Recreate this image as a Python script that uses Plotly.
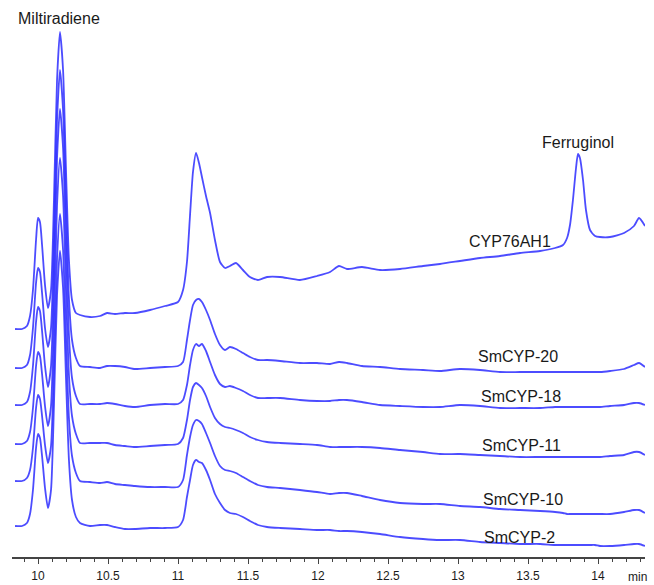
import plotly.graph_objects as go

# Retention time (min)
time_min = [9.836, 9.886, 9.921, 9.943, 9.964, 9.986, 10.000, 10.014, 10.029, 10.050,
            10.071, 10.093, 10.114, 10.136, 10.157, 10.179, 10.200, 10.221, 10.243, 10.271,
            10.300, 10.371, 10.443, 10.493, 10.550, 10.621, 10.693, 10.800, 10.907, 11.000,
            11.036, 11.064, 11.086, 11.107, 11.129, 11.150, 11.171, 11.200, 11.229, 11.264,
            11.300, 11.336, 11.371, 11.414, 11.464, 11.514, 11.571, 11.636, 11.729, 11.871,
            11.993, 12.086, 12.150, 12.207, 12.314, 12.443, 12.586, 12.750, 12.871, 13.014,
            13.157, 13.300, 13.443, 13.586, 13.693, 13.750, 13.779, 13.800, 13.821, 13.843,
            13.857, 13.871, 13.893, 13.914, 13.943, 13.979, 14.014, 14.086, 14.186, 14.257,
            14.293, 14.336]

# Stacked detector signals (arbitrary units, offsets included)
cyp76ah1 = [228, 228, 231, 241, 267, 317, 339, 335, 312, 272,
            249, 267, 357, 477, 525, 487, 387, 297, 257, 244,
            242, 240, 241, 244, 243, 244, 244, 247, 251, 255,
            267, 295, 342, 385, 404, 394, 380, 361, 344, 317,
            295, 289, 291, 294, 287, 280, 277, 280, 280, 277,
            281, 285, 291, 288, 290, 287, 288, 291, 293, 296,
            299, 301, 304, 306, 309, 312, 319, 332, 357, 389,
            403, 399, 377, 347, 327, 321, 320, 320, 324, 331,
            339, 331]

smcyp20 = [189, 189, 192, 202, 229, 274, 289, 285, 264, 229,
           210, 229, 317, 437, 487, 447, 349, 259, 217, 199,
           191, 190, 189, 191, 191, 190, 188, 189, 190, 191,
           195, 217, 237, 252, 257, 258, 255, 247, 237, 223,
           212, 207, 210, 208, 204, 200, 197, 197, 196, 194,
           194, 193, 195, 194, 191, 190, 188, 187, 186, 188,
           187, 185, 185, 185, 185, 185, 185, 185, 185, 185,
           185, 185, 185, 185, 185, 185, 185, 186, 188, 192,
           194, 190]

smcyp18 = [152, 152, 155, 165, 191, 235, 250, 246, 226, 191,
           170, 191, 279, 399, 448, 409, 311, 222, 179, 161,
           153, 153, 153, 154, 153, 151, 150, 152, 153, 153,
           157, 172, 192, 207, 213, 211, 213, 206, 195, 182,
           173, 170, 171, 169, 166, 162, 159, 159, 159, 157,
           156, 156, 157, 157, 155, 152, 151, 150, 150, 152,
           151, 149, 149, 149, 150, 150, 150, 150, 150, 150,
           150, 150, 150, 150, 150, 150, 150, 151, 152, 154,
           154, 152]

smcyp11 = [113, 113, 116, 125, 149, 191, 205, 201, 183, 151,
           131, 151, 237, 352, 399, 361, 267, 182, 141, 123,
           114, 114, 114, 114, 112, 111, 110, 111, 112, 113,
           119, 137, 157, 170, 174, 172, 169, 161, 150, 139,
           133, 130, 129, 127, 124, 120, 117, 115, 114, 113,
           112, 110, 110, 110, 110, 109, 107, 105, 103, 103,
           102, 101, 100, 100, 100, 100, 100, 100, 100, 100,
           100, 100, 100, 100, 100, 100, 100, 101, 102, 105,
           105, 102]

smcyp10 = [76, 76, 79, 87, 109, 149, 162, 158, 141, 112,
           94, 111, 192, 299, 343, 307, 219, 139, 101, 84,
           76, 75, 74, 75, 73, 72, 71, 70, 70, 70,
           77, 102, 120, 132, 137, 136, 133, 124, 114, 101,
           91, 87, 86, 84, 80, 76, 72, 70, 69, 67,
           65, 63, 64, 64, 61, 57, 54, 53, 53, 51,
           50, 48, 47, 46, 45, 44, 43, 43, 43, 43,
           43, 43, 43, 43, 43, 43, 43, 43, 45, 47,
           47, 44]

smcyp2 = [31, 31, 34, 43, 67, 109, 123, 119, 101, 69,
          49, 67, 152, 262, 306, 269, 179, 97, 57, 40,
          34, 31, 32, 32, 30, 28, 28, 29, 29, 30,
          37, 60, 77, 92, 97, 95, 94, 87, 77, 63,
          54, 47, 44, 43, 40, 36, 32, 30, 29, 28,
          27, 27, 26, 26, 25, 23, 20, 18, 17, 17,
          15, 14, 13, 13, 12, 12, 12, 12, 12, 12,
          12, 12, 12, 12, 12, 12, 11, 11, 12, 13,
          13, 11]

series_names = ["CYP76AH1", "SmCYP-20", "SmCYP-18", "SmCYP-11", "SmCYP-10", "SmCYP-2"]
series_values = [cyp76ah1, smcyp20, smcyp18, smcyp11, smcyp10, smcyp2]

# Label anchor positions (time, signal)
label_x = [13.371, 13.429, 13.45, 13.45, 13.464, 13.436]
label_y = [316, 201, 161, 112, 58, 20]

tick_vals = [10, 10.5, 11, 11.5, 12, 12.5, 13, 13.5, 14]
tick_text = ["10", "10.5", "11", "11.5", "12", "12.5", "13", "13.5", "14"]

FONT = "Liberation Sans, Arial, Helvetica, sans-serif"
LINE = "rgba(45,45,255,0.85)"
TXT = "#1a1a1a"

fig = go.Figure()
for name, vals in zip(series_names, series_values):
    fig.add_trace(go.Scatter(
        x=time_min, y=vals, mode="lines", name=name,
        line=dict(color=LINE, width=1.8, shape="spline", smoothing=0.6),
        showlegend=False, hoverinfo="skip"))

annotations = []
for name, lx, ly in zip(series_names, label_x, label_y):
    annotations.append(dict(x=lx, y=ly, xref="x", yref="y", text=name, showarrow=False,
                            font=dict(family=FONT, size=16, color=TXT)))
annotations.append(dict(x=10.15, y=539, xref="x", yref="y", text="Miltiradiene", showarrow=False,
                        font=dict(family=FONT, size=16, color=TXT)))
annotations.append(dict(x=13.857, y=415, xref="x", yref="y", text="Ferruginol", showarrow=False,
                        font=dict(family=FONT, size=16, color=TXT)))
annotations.append(dict(x=14.283, y=0, xref="x", yref="paper", yanchor="top", yshift=-11,
                        text="min", showarrow=False,
                        font=dict(family=FONT, size=12, color=TXT)))

fig.update_layout(
    width=654, height=585,
    margin=dict(l=12, r=9, t=0, b=28),
    paper_bgcolor="white", plot_bgcolor="white",
    annotations=annotations,
    xaxis=dict(range=[9.8143, 14.3357], tickmode="array", tickvals=tick_vals, ticktext=tick_text,
               showline=True, linecolor="#444", linewidth=1.5, ticks="outside", ticklen=5,
               tickwidth=1, tickcolor="#444", showgrid=False, zeroline=False,
               ticklabelstandoff=2,
               tickfont=dict(family=FONT, size=12, color=TXT),
               minor=dict(dtick=0.1, tick0=10, ticks="outside", ticklen=3, tickcolor="#444", showgrid=False)),
    yaxis=dict(range=[0, 557], visible=False, showgrid=False, zeroline=False),
)

# remove the default page margin so the 654x585 figure fills the window exactly
fig.write_html("out.html", config={"displayModeBar": False},
               post_script="document.body.style.margin='0';document.body.style.overflow='hidden';")
